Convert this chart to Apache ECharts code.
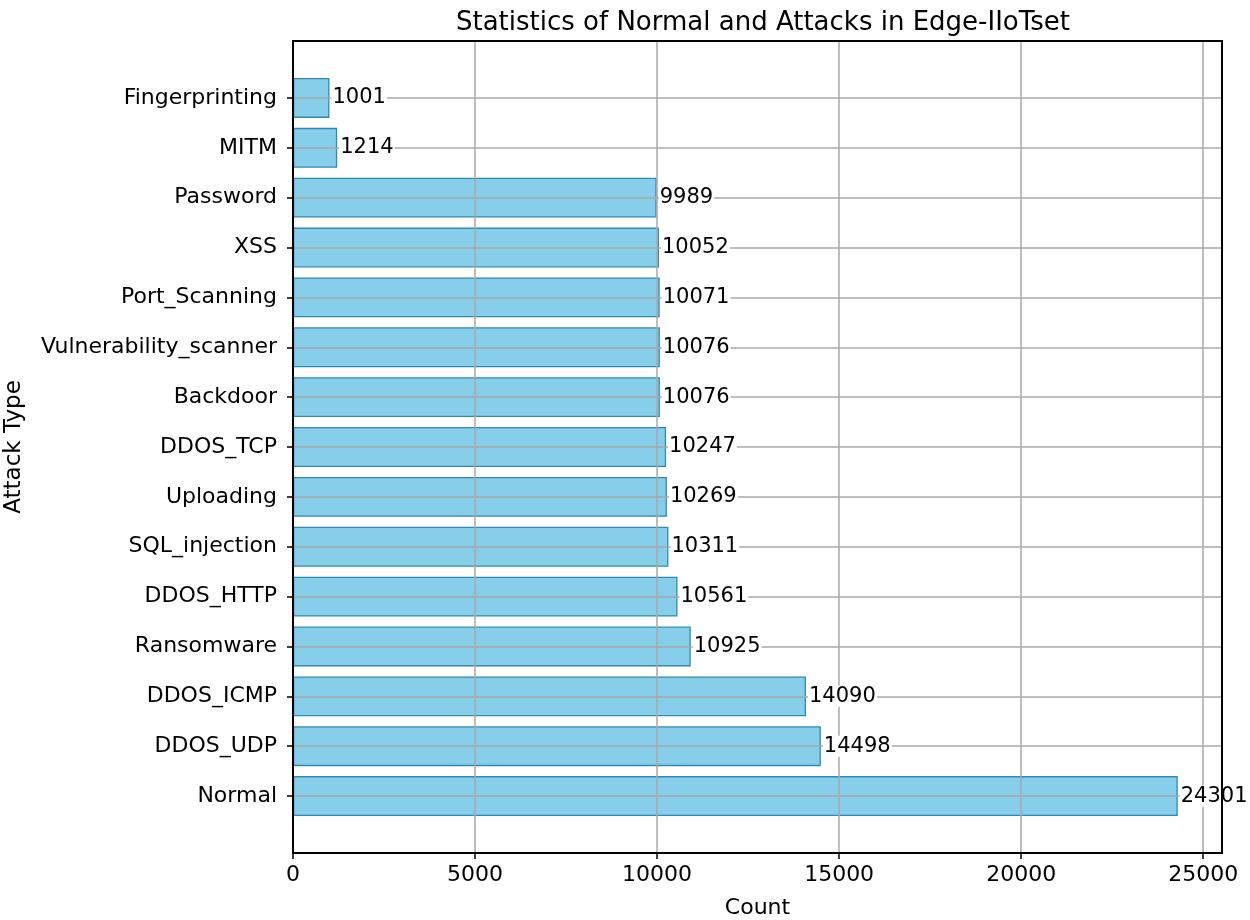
<!DOCTYPE html>
<html>
<head>
<meta charset="utf-8">
<script src="https://cdn.jsdelivr.net/npm/echarts@6/dist/echarts.min.js"></script>
<style>
html, body { margin: 0; padding: 0; background: #fff; }
#main { width: 1250px; height: 920px; }
</style>
</head>
<body>
<div id="main"></div>
<script>
// data, bottom to top as drawn
const attackTypes = ['Normal', 'DDOS_UDP', 'DDOS_ICMP', 'Ransomware', 'DDOS_HTTP', 'SQL_injection',
    'Uploading', 'DDOS_TCP', 'Backdoor', 'Vulnerability_scanner', 'Port_Scanning', 'XSS',
    'Password', 'MITM', 'Fingerprinting']
const counts = [24301, 14498, 14090, 10925, 10561, 10311, 10269, 10247, 10076, 10076, 10071, 10052, 9989, 1214, 1001]
const xTicks = [0, 5000, 10000, 15000, 20000, 25000]
const xMax = 25516

const font = 'DejaVu Sans'
const gridColor = '#a8a8a8'

let myChart = echarts.init(document.getElementById('main'))
let option = {
    backgroundColor: '#fff',
    animation: false,
    title: {
        text: 'Statistics of Normal and Attacks in Edge-IIoTset',
        left: 758,
        top: 5,
        textAlign: 'center',
        textStyle: { fontFamily: font, fontSize: 26, fontWeight: 'normal', color: '#000' }
    },
    grid: [
        // outer frame
        { left: 293, right: 28, top: 41, bottom: 67, outerBoundsMode: 'none', containLabel: false,
          show: true, borderColor: '#000', borderWidth: 2, z: 5 },
        // bars
        { left: 293, right: 28, top: 73, bottom: 99, outerBoundsMode: 'none', containLabel: false }
    ],
    xAxis: [
        {
            gridIndex: 0,
            type: 'value',
            min: 0,
            max: xMax,
            interval: 5000,
            z: 3,
            name: 'Count',
            nameLocation: 'middle',
            nameGap: 44,
            nameMoveOverlap: false,
            nameTextStyle: { fontFamily: font, fontSize: 22, color: '#000' },
            axisLine: { show: false },
            axisTick: { show: true, length: 6, customValues: xTicks, lineStyle: { color: '#000', width: 1.5 } },
            axisLabel: {
                customValues: xTicks, margin: 11,
                fontFamily: font, fontSize: 22, color: '#000',
                formatter: v => String(v)
            },
            splitLine: { show: true, lineStyle: { color: gridColor, width: 1.5 } }
        },
        {
            gridIndex: 1,
            type: 'value',
            min: 0,
            max: xMax,
            show: false
        }
    ],
    yAxis: [
        {
            gridIndex: 0,
            type: 'value',
            min: 0,
            max: 1,
            name: 'Attack Type',
            nameLocation: 'middle',
            nameGap: 267,
            nameMoveOverlap: false,
            nameTextStyle: { fontFamily: font, fontSize: 23, color: '#000' },
            axisLine: { show: false },
            axisTick: { show: false },
            axisLabel: { show: false },
            splitLine: { show: false }
        },
        {
            gridIndex: 1,
            type: 'category',
            data: attackTypes,
            z: 3,
            axisLine: { show: false },
            axisTick: { show: true, alignWithLabel: true, length: 6, lineStyle: { color: '#000', width: 1.5 } },
            axisLabel: { margin: 16, fontFamily: font, fontSize: 22, color: '#000' },
            splitLine: { show: true, alignWithLabel: true, lineStyle: { color: gridColor, width: 1.5 } }
        }
    ],
    series: [
        {
            type: 'bar',
            xAxisIndex: 1,
            yAxisIndex: 1,
            data: counts,
            barWidth: '80%',
            z: 2,
            itemStyle: { color: '#87ceeb', borderColor: '#2f8ab3', borderWidth: 1.3 }
        },
        {
            // value labels, kept above the grid lines
            type: 'bar',
            xAxisIndex: 1,
            yAxisIndex: 1,
            data: counts,
            barWidth: '80%',
            barGap: '-100%',
            z: 4,
            silent: true,
            itemStyle: { color: 'transparent' },
            label: {
                show: true,
                position: 'right',
                distance: 2,
                fontFamily: font,
                fontSize: 21,
                color: '#000',
                backgroundColor: '#fff',
                padding: [0, 1, 0, 1]
            }
        }
    ]
}
myChart.setOption(option)
</script>
</body>
</html>
